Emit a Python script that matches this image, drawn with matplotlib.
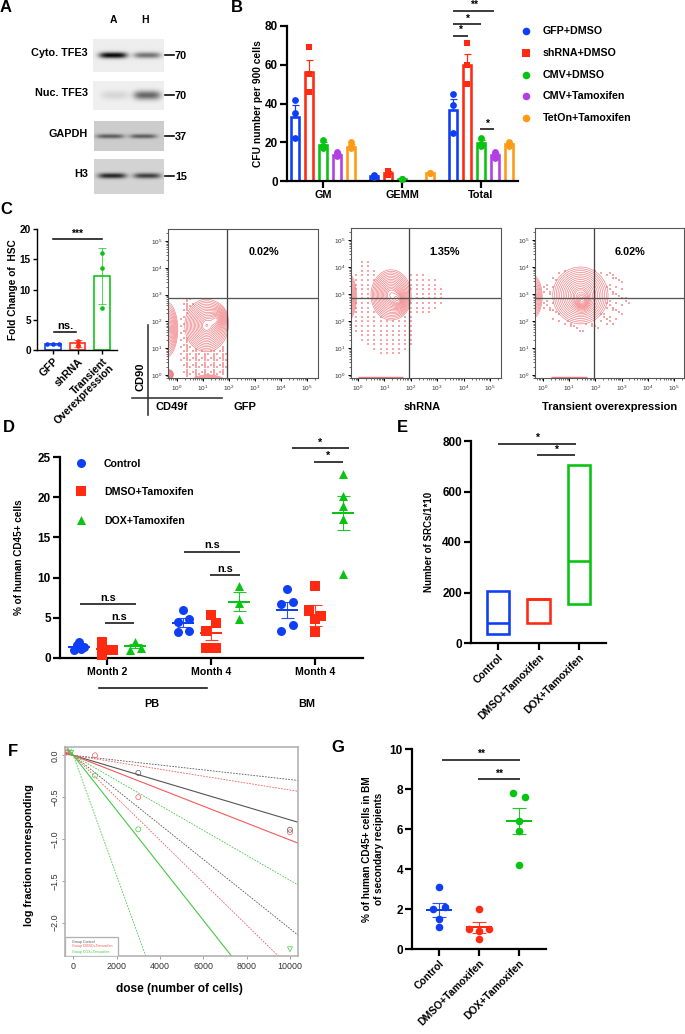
import numpy as np
import matplotlib
matplotlib.use("Agg")
import matplotlib.pyplot as plt
from matplotlib.patches import Rectangle

plt.rcParams['font.family'] = ['Liberation Sans', 'DejaVu Sans']
plt.rcParams['font.weight'] = 'bold'
plt.rcParams['axes.labelweight'] = 'bold'
plt.rcParams['mathtext.default'] = 'regular'

W, H = 685, 1034
BLUE, RED, GREEN, PURPLE, ORANGE = '#0f3ff5', '#ff2a12', '#08c412', '#b23fe6', '#ff9a14'

## panel A
blot_names = ['Cyto. TFE3', 'Nuc. TFE3', 'GAPDH', 'H3']
blot_kda = ['70', '70', '37', '15']
blot_bg = [0.93, 0.94, 0.80, 0.83]
blot_lane_a = [0.02, 0.84, 0.36, 0.14]
blot_lane_h = [0.45, 0.40, 0.36, 0.24]

## panel B
b_groups = ['GM', 'GEMM', 'Total']
b_series = ['GFP+DMSO', 'shRNA+DMSO', 'CMV+DMSO', 'CMV+Tamoxifen', 'TetOn+Tamoxifen']
b_means = [[33, 2.5, 36.5], [56.5, 4, 60], [18.5, 1, 19.8], [13.5, 0, 13.5], [17.5, 4, 19]]
b_err = [[6, 0.5, 6], [6.2, 1, 5.5], [1.5, 0.2, 1.5], [0.8, 0, 1], [1.6, 0, 0.8]]
b_points = [
    [[42, 35, 22], [3, 2.5, 2], [45, 39, 25]],
    [[69, 55, 46], [5, 4, 3], [71, 60, 50]],
    [[21, 18, 17], [1.2, 1, 0.8], [22, 19, 18]],
    [[15, 14, 13], [], [15, 14, 12]],
    [[20, 18, 17], [4, 4], [20, 19, 18]],
]
b_sig = [(1.65, 2.17, 87.8, '**'), (1.65, 2.0, 80.9, '*'), (1.65, 1.83, 75, '*'), (1.99, 2.17, 26.8, '*')]

## panel C bar
c_labels = ['GFP', 'shRNA', 'Transient\nOverexpression']
c_means = [1.0, 1.1, 12.2]
c_err = [0.1, 0.6, 4.65]
c_points = [[1, 1, 1], [1.5, 0.9, 0.7], [16, 13.6, 7]]
c_jitter = [[-0.25, 0, 0.25], [0, 0, 0], [0, 0, 0]]

## flow plots: blobs are cx, cy, sx, sy, weight in log10 units
flow_titles = ['GFP', 'shRNA', 'Transient overexpression']
flow_pct = ['0.02%', '1.35%', '6.02%']
flow_blobs = [
    [(1.13, 1.85, 0.34, 0.40, 1.0), (1.55, 2.1, 0.15, 0.20, 0.5), (-0.42, 1.7, 0.19, 0.45, 0.7),
     (-0.32, 0.02, 0.08, 0.08, 0.6), (1.2, -0.35, 0.33, 0.16, 0.6)],
    [(1.25, 2.97, 0.31, 0.38, 1.0), (1.55, 2.75, 0.14, 0.20, 0.5), (-0.42, 2.9, 0.16, 0.40, 0.6)],
    [(1.43, 2.95, 0.43, 0.43, 1.0), (1.5, 2.7, 0.15, 0.17, 0.5), (-0.42, 2.9, 0.18, 0.38, 0.5)],
]
flow_clouds = [
    [(1.1, 0.55, 0.45, 0.42), (0.45, 1.4, 0.18, 0.75)],
    [(1.2, 1.7, 0.5, 0.5), (0.3, 2.7, 0.26, 0.8), (2.3, 3.0, 0.48, 0.38)],
    [(1.6, 2.8, 0.85, 0.62)],
]
flow_dot_step = [3, 2, 7]
flow_floor_x = [[], [0.0, 1.7], [0.3, 1.7]]
flow_xlims = [(-0.35, 5.42), (-0.27, 5.42), (-0.30, 5.38)]
flow_gate = [(1.92, 2.87), (1.93, 2.87), (1.95, 2.87)]

## panel D
d_groups = ['Month 2', 'Month 4', 'Month 4']
d_series = ['Control', 'DMSO+Tamoxifen', 'DOX+Tamoxifen']
d_values = [
    [[1.0, 2.0, 1.6, 1.4, 1.1], [6.0, 4.5, 4.85, 3.2, 3.4], [8.6, 6.7, 7.0, 4.15, 3.3]],
    [[2.0, 0.4, 1.0, 1.0, 1.1], [5.3, 4.3, 3.35, 1.2, 1.2], [8.9, 6.0, 5.2, 4.85, 3.25]],
    [[2.0, 1.0, 1.3], [8.9, 6.9, 4.9], [22.9, 20.2, 18.9, 17.3, 10.4]],
]
d_jitter = [
    [[-0.05, 0, -0.02, 0.05, 0.015], [0, -0.05, 0.055, -0.05, 0.055], [0, -0.055, 0.055, 0.055, -0.055]],
    [[-0.05, -0.05, 0, 0.055, -0.05], [0, 0.05, -0.05, -0.05, 0.05], [0, -0.055, 0.055, 0, 0]],
    [[0, -0.05, 0.055], [0, 0, 0], [0, 0, 0, 0, 0]],
]
d_means = [[1.4, 4.4, 6.0], [1.1, 3.1, 5.3], [1.45, 7.0, 18.0]]
d_sem = [[0.2, 0.55, 1.0], [0.35, 0.9, 1.3], [0.25, 1.15, 2.1]]
d_sig = [(-0.26, 0.276, 6.7, 'n.s'), (-0.02, 0.26, 4.3, 'n.s'), (0.74, 1.28, 13.2, 'n.s'),
         (0.99, 1.28, 10.3, 'n.s'), (1.775, 2.33, 26.1, '*'), (1.99, 2.27, 24.4, '*')]

## panel E
e_labels = ['Control', 'DMSO+Tamoxifen', 'DOX+Tamoxifen']
e_low = [35, 80, 155]
e_high = [205, 175, 705]
e_mid = [78, 175, 325]
e_sig = [(0.0, 1.92, 790, '*'), (0.96, 1.9, 743, '*')]

## panel F
f_dose_ends = [-383, 10370]
f_right_solid = [-0.80, -1.05, -2.4 * 10370 / 7300]
f_right_upper = [-0.30, -0.43, -1.55]
f_right_lower = [-2.15, -2.4 * 10370 / 9460, -2.4 * 10370 / 3340]
f_names = ['Group Control', 'Group DMSO+Tamoxifen', 'Group DOX+Tamoxifen']
f_dose_pts = [[3000, 10000], [1000, 3000, 10000], [1000, 3000]]
f_frac_pts = [[-0.21, -0.89], [-0.0, -0.5, -0.92], [-0.24, -0.885]]
f_tri_dose = [[], [-300], [-100, 10000]]
f_tri_frac = [[], [0.03], [0.03, -2.32]]

## panel G
g_values = [[3.1, 2.0, 2.1, 1.5, 1.1], [2.0, 1.0, 1.0, 0.9, 0.5], [7.8, 7.6, 6.4, 5.9, 4.2]]
g_jitter = [[0, -0.15, 0.15, 0, 0], [0, -0.26, 0.26, 0, 0], [-0.15, 0.15, 0, 0, 0]]
g_means = [1.95, 1.08, 6.4]
g_sem = [0.34, 0.26, 0.66]
g_sig = [(0.08, 2.03, 9.47, '**'), (0.98, 2.03, 8.48, '**')]

fig = plt.figure(figsize=(W / 100, H / 100), dpi=100, facecolor='white')


def pt(px):
    return px * 0.72


def ax_px(x0, ytop, x1, ybot):
    return fig.add_axes([x0 / W, 1 - ybot / H, (x1 - x0) / W, (ybot - ytop) / H])


def prism_axes(ax, lw=2.2, tick_len=7, size=8.5):
    ax.patch.set_alpha(0)
    for s in ['top', 'right']:
        ax.spines[s].set_visible(False)
    for s in ['left', 'bottom']:
        ax.spines[s].set_linewidth(pt(lw))
    ax.tick_params(width=pt(lw), length=pt(tick_len), labelsize=size, pad=1.5)


def sig_lines(ax, sig, size=7.5, off=0):
    for x0, x1, y, lab in sig:
        ax.plot([x0, x1], [y, y], color='#111111', lw=pt(1.6), clip_on=False, solid_capstyle='butt')
        dy = off if lab in ('*', '**', '***') else off - 3
        ax.annotate(lab, ((x0 + x1) / 2, y), xytext=(0, dy), textcoords='offset points', annotation_clip=False,
                    ha='center', va='bottom' if '*' not in lab else 'center', fontsize=size)


def dot_group(ax, xs, ys, color, marker, size):
    ax.scatter(xs, ys, s=size, c=color, marker=marker, linewidths=0, zorder=3, clip_on=False)


def rot_labels(ax, labels, size=7.5):
    ax.set_xticklabels(labels, rotation=45, ha='right', rotation_mode='anchor', fontsize=size, linespacing=1.0)


def blob_field(blobs, x, y):
    out = np.zeros_like(x)
    for cx, cy, sx, sy, w in blobs:
        out = out + w * np.exp(-0.5 * ((x - cx) / sx) ** 2 - 0.5 * ((y - cy) / sy) ** 2)
    return out


# overlay in pixel coords for panel letters and free labels
ov = fig.add_axes([0, 0, 1, 1], zorder=10)
ov.set_xlim(0, W)
ov.set_ylim(H, 0)
ov.axis('off')
for let, lx, ly in [('A', 6, 8), ('B', 237, 7), ('C', 6, 209), ('D', 9, 427), ('E', 402, 427), ('F', 13, 751), ('G', 338, 748)]:
    ov.text(lx, ly, let, fontsize=12, ha='center', va='center')

## A: blots, bands are soft ellipses on a grey strip
blot_boxes = [(93, 39, 164, 72), (93, 81, 164, 110), (94, 121, 164, 151), (94, 159, 164, 194)]
blot_band_y = [55, 95, 136, 176]
blot_band_h = [3.0, 4.5, 2.2, 2.6]
blot_lane_x = [(113, 147), (115, 147), (110, 143), (112, 147)]
for i, (x0, y0, x1, y1) in enumerate(blot_boxes):
    ax = ax_px(x0, y0, x1, y1)
    ax.axis('off')
    gx, gy = np.meshgrid(np.arange(x0, x1, 0.5), np.arange(y0, y1, 0.5))
    img = np.full(gx.shape, blot_bg[i])
    for cx, half, level in [(blot_lane_x[i][0], 14, blot_lane_a[i]), (blot_lane_x[i][1], 13.5, blot_lane_h[i])]:
        shape = np.exp(-((gx - cx) / half) ** 4 - ((gy - blot_band_y[i]) / blot_band_h[i]) ** 2)
        img = img + (level - blot_bg[i]) * shape
    ax.imshow(img, cmap='gray', vmin=0, vmax=1, aspect='auto', interpolation='bilinear')
    ov.text(88, blot_band_y[i] - 2, blot_names[i], ha='right', va='center', fontsize=7.8)
    ov.plot([165, 174], [blot_band_y[i], blot_band_y[i]], color='black', lw=pt(1.6))
    ov.text(175, blot_band_y[i] + 1, blot_kda[i], ha='left', va='center', fontsize=7.8)
ov.text(113, 20, 'A', ha='center', va='center', fontsize=7.5)
ov.text(145, 20, 'H', ha='center', va='center', fontsize=7.5)

## B
ax = ax_px(287, 26, 518, 181)
prism_axes(ax)
ax.set_xlim((287 - 323) / 79, (518 - 323) / 79)
ax.set_ylim(0, 80)
ax.set_yticks([0, 20, 40, 60, 80])
ax.set_xticks(range(3))
ax.set_xticklabels(b_groups, fontsize=7.8)
ax.set_ylabel('CFU number per 900 cells', fontsize=7.4, labelpad=1)
b_cols = [BLUE, RED, GREEN, PURPLE, ORANGE]
b_mark = ['o', 's', 'o', 'o', 'o']
b_off = 14 / 79
for j in range(5):
    for g in range(3):
        xc = g + (j - 2) * b_off
        if b_means[j][g] == 0:
            continue
        ax.bar(xc, b_means[j][g], width=7.6 / 79, facecolor='white', edgecolor=b_cols[j], linewidth=pt(2.6), zorder=2)
        ax.errorbar(xc, b_means[j][g], yerr=[[0], [b_err[j][g]]], color=b_cols[j], capsize=pt(3.5),
                    elinewidth=pt(1.2), capthick=pt(1.2), zorder=2)
        if b_points[j][g]:
            dot_group(ax, [xc] * len(b_points[j][g]), b_points[j][g], b_cols[j], b_mark[j], 24)
sig_lines(ax, b_sig, size=7.5, off=4)
for j, name in enumerate(b_series):
    ly = [31, 53, 75, 96, 118][j]
    ov.scatter([526], [ly], s=30, c=b_cols[j], marker=b_mark[j], linewidths=0)
    ov.text(543, ly, name, ha='left', va='center', fontsize=7.7)

## C bar
ax = ax_px(37, 229, 117, 350)
prism_axes(ax, lw=1.4, tick_len=4, size=7.2)
ax.set_xlim((37 - 53) / 24.5, (117 - 53) / 24.5)
ax.set_ylim(0, 20)
ax.set_yticks([0, 5, 10, 15, 20])
ax.set_xticks(range(3))
rot_labels(ax, c_labels, 7.6)
ax.set_ylabel('Fold Change of  HSC', fontsize=7.3, labelpad=1)
c_cols = [BLUE, RED, GREEN]
for j in range(3):
    ax.bar(j, c_means[j], width=0.62, facecolor='white', edgecolor=c_cols[j], linewidth=pt(1.6), zorder=2)
    ax.errorbar(j, c_means[j], yerr=c_err[j], color=c_cols[j], alpha=0.75, capsize=pt(4),
                elinewidth=pt(0.9), capthick=pt(0.9), zorder=2)
    dot_group(ax, np.array(c_jitter[j]) + j, c_points[j], c_cols[j], 'o', 11)
ax.plot([0, 2], [18.3, 18.3], color='#111111', lw=pt(1.6), clip_on=False)
ax.text(1, 18.4, '***', ha='center', va='bottom', fontsize=7.5)
ax.plot([0.04, 0.95], [3.0, 3.0], color='#111111', lw=pt(1.6), clip_on=False)
ax.text(0.5, 3.1, 'ns.', ha='center', va='bottom', fontsize=8)

## C flow plots
flow_boxes = [(168, 229, 318, 378), (351, 228, 501, 378), (535, 228, 684, 378)]
flow_title_x = [245, 422, 610]
flow_pct_x = [264, 445, 630]
ring_levels = np.concatenate([np.sort(np.exp(-0.5 * np.linspace(2.45, 0.45, 14) ** 2)), np.linspace(1.0, 1.42, 6)])
for i, (x0, y0, x1, y1) in enumerate(flow_boxes):
    ax = ax_px(x0, y0, x1, y1)
    ax.set_xlim(*flow_xlims[i])
    ax.set_ylim(-0.11, 5.45)
    gx, gy = np.meshgrid(np.linspace(-0.5, 5.5, 300), np.linspace(-0.6, 5.5, 300))
    field = blob_field(flow_blobs[i], gx, gy)
    # stipple of single events on a lattice, kept outside the contours
    lx, ly = np.meshgrid(np.arange(-0.3, 3.6, 0.115), np.arange(-0.05, 4.4, 0.085))
    cloud = np.zeros_like(lx)
    for cx, cy, sx, sy in flow_clouds[i]:
        cloud = np.maximum(cloud, np.exp(-0.5 * ((lx - cx) / sx) ** 2 - 0.5 * ((ly - cy) / sy) ** 2))
    inside = blob_field(flow_blobs[i], lx, ly)
    row, col = np.indices(lx.shape)
    keep = (cloud > 0.14) & (inside < 0.05) & ((row * row * 3 + col * col * 5 + row * col) % flow_dot_step[i] == 0)
    ax.scatter(lx[keep], ly[keep], s=0.8, c='#f25a5e', marker='s', linewidths=0, alpha=0.55)
    ax.contour(gx, gy, field, levels=ring_levels, colors='#f0787c', linewidths=0.45)
    if flow_floor_x[i]:
        ax.hlines(-0.07, flow_floor_x[i][0], flow_floor_x[i][1], color='#f0787c', lw=1.0)
    ax.axvline(flow_gate[i][0], color='#444444', lw=pt(1.3))
    ax.axhline(flow_gate[i][1], color='#555555', lw=pt(1.3))
    dec = list(range(6))
    ax.set_xticks(dec)
    ax.set_yticks(dec)
    ax.set_xticklabels([f'$10^{{{d}}}$' for d in dec], fontweight='normal', color='#333333')
    ax.set_yticklabels([f'$10^{{{d}}}$' for d in dec], fontweight='normal', color='#333333')
    minor = [d + np.log10(m) for d in range(-1, 6) for m in range(2, 10)]
    ax.set_xticks([m for m in minor if flow_xlims[i][0] < m < flow_xlims[i][1]], minor=True)
    ax.set_yticks([m for m in minor if -0.11 < m < 5.45], minor=True)
    ax.tick_params(which='major', length=2.4, width=0.7, labelsize=4.6, pad=1.5)
    ax.tick_params(which='minor', length=1.2, width=0.4)
    for s in ax.spines.values():
        s.set_linewidth(pt(1.1))
        s.set_color('#555555')
    ov.text(flow_title_x[i], 407, flow_titles[i], ha='center', va='center', fontsize=8)
    ov.text(flow_pct_x[i], 252, flow_pct[i], ha='center', va='center', fontsize=7.8)
ov.plot([148, 148], [325, 415], color='#333333', lw=pt(1.6))
ov.plot([132, 222], [398, 398], color='#333333', lw=pt(1.6))
ov.text(141, 377, 'CD90', rotation=90, ha='center', va='center', fontsize=8)
ov.text(172, 407, 'CD49f', ha='center', va='center', fontsize=8)

## D
ax = ax_px(60, 457, 363, 658)
prism_axes(ax)
ax.set_xlim((60 - 107) / 104, (363 - 107) / 104)
ax.set_ylim(0, 25)
ax.set_yticks([0, 5, 10, 15, 20, 25])
ax.set_xticks(range(3))
ax.set_xticklabels(d_groups, fontsize=7.6)
ax.set_ylabel('% of human CD45+ cells', fontsize=7.2, labelpad=10)
d_cols = [BLUE, RED, GREEN]
d_mark = ['o', 's', '^']
d_off = 28 / 104
for j in range(3):
    for g in range(3):
        xc = g + (j - 1) * d_off
        dot_group(ax, np.array(d_jitter[j][g]) + xc, d_values[j][g], d_cols[j], d_mark[j], 42)
        ax.errorbar(xc, d_means[j][g], yerr=d_sem[j][g], color=d_cols[j], capsize=pt(6.5),
                    elinewidth=pt(1.1), capthick=pt(1.1), zorder=4, alpha=0.9)
        ax.hlines(d_means[j][g], xc - 0.11, xc + 0.11, color=d_cols[j], lw=pt(2), zorder=4)
sig_lines(ax, d_sig, size=7.8, off=4)
for j, name in enumerate(d_series):
    ly = [463, 491, 520][j]
    ov.scatter([81], [ly], s=42, c=d_cols[j], marker=d_mark[j], linewidths=0)
    ov.text(104, ly + 1, name, ha='left', va='center', fontsize=7.6)
ov.plot([99, 207], [688, 688], color='#111111', lw=pt(1.6))
ov.text(152, 704, 'PB', ha='center', va='center', fontsize=7.8)
ov.text(307, 704, 'BM', ha='center', va='center', fontsize=7.8)

## E
ax = ax_px(471, 441, 606, 643)
prism_axes(ax)
ax.set_xlim((471 - 498) / 40.5, (606 - 498) / 40.5)
ax.set_ylim(0, 800)
ax.set_yticks([0, 200, 400, 600, 800])
ax.set_xticks(range(3))
rot_labels(ax, e_labels)
ax.set_ylabel('Number of SRCs/1*10', fontsize=7, labelpad=6)
e_cols = [BLUE, RED, GREEN]
for j in range(3):
    ax.bar(j, e_high[j] - e_low[j], bottom=e_low[j], width=0.56, facecolor='white', edgecolor=e_cols[j], linewidth=pt(2.6))
    ax.hlines(e_mid[j], j - 0.28, j + 0.28, color=e_cols[j], lw=pt(2.6))
sig_lines(ax, e_sig, size=7.5, off=4)

## F
ax = ax_px(65, 747, 298, 956)
ax.set_xlim(*f_dose_ends)
ax.set_ylim(-2.40, 0.10)
f_cols = ['#555555', '#f55a5a', '#45c845']
for j in range(3):
    ax.plot(f_dose_ends, [f_right_solid[j] * d / f_dose_ends[1] for d in f_dose_ends], color=f_cols[j], lw=0.8)
    ax.plot(f_dose_ends, [f_right_upper[j] * d / f_dose_ends[1] for d in f_dose_ends], color=f_cols[j], lw=0.6, ls=(0, (2, 1.5)))
    ax.plot(f_dose_ends, [f_right_lower[j] * d / f_dose_ends[1] for d in f_dose_ends], color=f_cols[j], lw=0.6, ls=(0, (2, 1.5)))
    ax.scatter(f_dose_pts[j], f_frac_pts[j], s=13, facecolors='none', edgecolors=f_cols[j], linewidths=0.5, zorder=3)
    if f_tri_dose[j]:
        ax.scatter(f_tri_dose[j], f_tri_frac[j], s=13, marker='v', facecolors='none', edgecolors=f_cols[j], linewidths=0.5, zorder=3)
ax.set_xticks(range(0, 10001, 2000))
ax.set_yticks([0, -0.5, -1, -1.5, -2])
ax.set_yticklabels(['0.0', '\u22120.5', '\u22121.0', '\u22121.5', '\u22122.0'], rotation=90, va='center',
                   fontweight='normal', color='#333333')
ax.set_xticklabels([str(v) for v in range(0, 10001, 2000)], fontweight='normal', color='#333333')
ax.tick_params(labelsize=6.4, length=2.5, width=0.5, pad=1.5, color='#777777')
for s in ax.spines.values():
    s.set_color('#b0b0b0')
    s.set_linewidth(pt(1.6))
ax.add_patch(Rectangle((0, 0), 53 / 233, 19 / 209, transform=ax.transAxes, fill=True, facecolor='white',
                       edgecolor='#b0b0b0', lw=pt(1.3), zorder=4))
for j, name in enumerate(f_names):
    ov.text(72, 941.5 + j * 5, name, fontsize=2.6, color=f_cols[j], fontweight='normal', ha='left', va='center')
ov.text(29, 855, 'log fraction nonresponding', rotation=90, ha='center', va='center', fontsize=7.8)
ov.text(179, 989, 'dose (number of cells)', ha='center', va='center', fontsize=8.6)

## G
ax = ax_px(412, 749, 546, 949)
prism_axes(ax)
ax.set_xlim((412 - 439) / 40, (546 - 439) / 40)
ax.set_ylim(0, 10)
ax.set_yticks([0, 2, 4, 6, 8, 10])
ax.set_xticks(range(3))
rot_labels(ax, e_labels)
ax.set_ylabel('% of human CD45+ cells in BM\nof secondary recipients', fontsize=7.2, labelpad=4, linespacing=1.3)
for j in range(3):
    dot_group(ax, np.array(g_jitter[j]) + j, g_values[j], e_cols[j], 'o', 30)
    ax.errorbar(j, g_means[j], yerr=g_sem[j], color=e_cols[j], capsize=pt(7),
                elinewidth=pt(1.1), capthick=pt(1.1), zorder=4, alpha=0.9)
    ax.hlines(g_means[j], j - 0.33, j + 0.33, color=e_cols[j], lw=pt(2), zorder=4)
sig_lines(ax, g_sig, size=7.5, off=4)

fig.savefig('out.png', dpi=100)
